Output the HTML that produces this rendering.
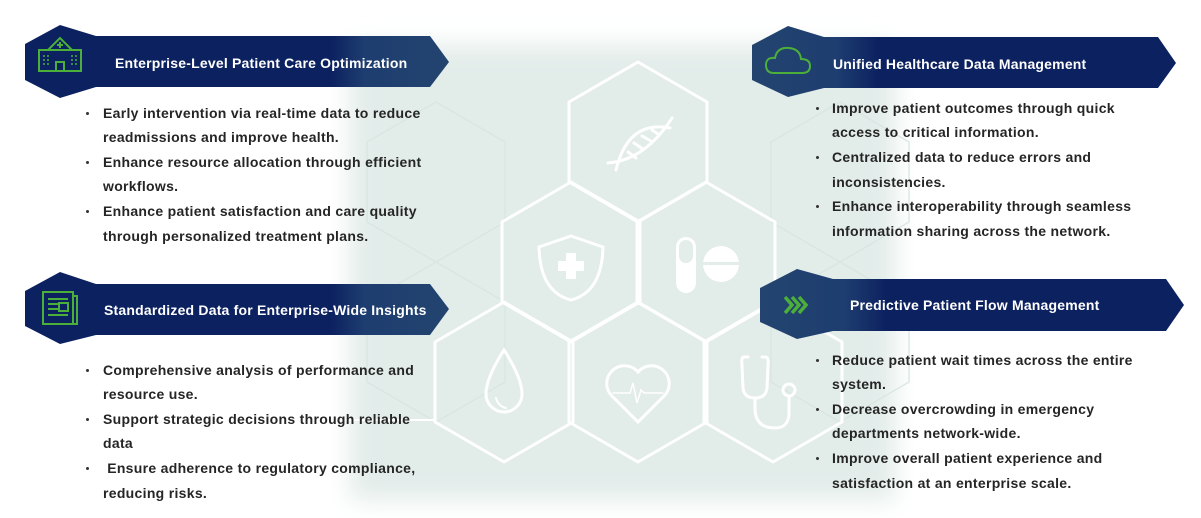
<!DOCTYPE html>
<html><head><meta charset="utf-8"><style>
body{margin:0;width:1201px;height:518px;background:#fff;position:relative;overflow:hidden;font-family:"Liberation Sans",sans-serif}
.l{position:absolute;font-size:14px;letter-spacing:0.3px;font-weight:bold;color:#252525;white-space:nowrap;line-height:16px}
.h{position:absolute;font-size:14px;letter-spacing:0.2px;font-weight:bold;color:#fff;white-space:nowrap;line-height:16px}
.b{position:absolute;width:3px;height:3px;background:#333;border-radius:50%}
svg{position:absolute;left:0;top:0}
</style></head><body>
<svg width="1201" height="518" viewBox="0 0 1201 518">
<defs>
<filter id="blur" x="-20%" y="-20%" width="140%" height="140%"><feGaussianBlur stdDeviation="12"/></filter>
<linearGradient id="fl" x1="0" x2="1"><stop offset="0.72" stop-color="#0c2160"/><stop offset="0.8" stop-color="#1e3d70"/><stop offset="1" stop-color="#23446f"/></linearGradient>
<linearGradient id="fr" x1="0" x2="1"><stop offset="0" stop-color="#23446f"/><stop offset="0.2" stop-color="#1e3d70"/><stop offset="0.3" stop-color="#0c2160"/></linearGradient>
</defs>
<rect x="350" y="45" width="545" height="455" fill="#e2ece9" filter="url(#blur)"/>
<g fill="none" stroke="#d8e5e1" stroke-width="1.2">
<polygon points="436,262 505,222 505,142 436,102 367,142 367,222"/>
<polygon points="840,262 909,222 909,142 840,102 771,142 771,222"/>
<polygon points="436,422 505,382 505,302 436,262 367,302 367,382"/>
<polygon points="840,422 909,382 909,302 840,262 771,302 771,382"/>
</g>
<g fill="none" stroke="#ffffff" stroke-width="3" stroke-linejoin="round">
<polygon points="638,62 707,102 707,182 638,222 569,182 569,102"/>
<polygon points="571,182 640,222 640,302 571,342 502,302 502,222"/>
<polygon points="706,182 775,222 775,302 706,342 637,302 637,222"/>
<polygon points="504,302 573,342 573,422 504,462 435,422 435,342"/>
<polygon points="638,302 707,342 707,422 638,462 569,422 569,342"/>
<polygon points="773,302 842,342 842,422 773,462 704,422 704,342"/>
<line x1="340" y1="420" x2="435" y2="420" stroke-width="2"/>
</g>
<g fill="none" stroke="#fff" stroke-width="3" stroke-linecap="round">
<path d="M616,170 Q628,120 670,128"/><path d="M608,163 Q645,160 672,118"/>
<path d="M628,152 l8,6 M634,143 l9,6 M642,136 l9,5 M652,130 l6,4"/>
<path d="M571,236 L603,247 Q602,292 571,300 Q540,292 539,247 Z"/>
<path d="M504,350 Q522,378 522,394 A18,18 0 0 1 486,394 Q486,378 504,350 Z"/>
<path d="M496,398 Q498,406 506,408" stroke-width="2"/>
<path d="M638,422 L611,395 A15,15 0 1 1 638,372 A15,15 0 1 1 665,395 Z"/>
<path d="M613,393 L630,393 L633,383 L637,403 L641,390 L644,393 L663,393" stroke-width="1.5"/>
<path d="M748,357 L744,357 Q741,357 742,365 L743,388 Q744,398 755,398 Q766,398 767,388 L768,365 Q769,357 765,357 L762,357"/>
<path d="M755,398 L755,410 Q756,428 775,428 Q790,428 789,410 L789,397"/>
<circle cx="789" cy="390" r="6"/>
</g>
<g fill="#fff">
<rect x="566" y="253" width="10" height="26"/><rect x="558" y="261" width="26" height="10"/>
<rect x="676" y="237" width="20" height="56" rx="10"/>
<circle cx="721" cy="264" r="18"/>
</g>
<rect x="679" y="240" width="14" height="23" rx="7" fill="#e3ede9"/>
<rect x="703" y="262" width="36" height="3" fill="#e3ede9"/>
<path d="M25,44 L60,25 L96,36 L430,36 L449,62 L430,87 L96,87 L60,98 L25,80 Z" fill="url(#fl)"/>
<path d="M25,291 L60,272 L96,284 L430,284 L449,309 L430,335 L96,335 L60,344 L25,326 Z" fill="url(#fl)"/>
<path d="M752,45 L788,26 L824,37 L1158,37 L1176,63 L1158,88 L824,88 L788,97 L752,80 Z" fill="url(#fr)"/>
<path d="M760,288 L797,269 L833,279 L1166,279 L1184,305 L1166,331 L833,331 L797,339 L760,322 Z" fill="url(#fr)"/>
<g fill="none" stroke="#4caf3a" stroke-width="2">
<rect x="39" y="50" width="42" height="21"/><path d="M48,50 L60,38 L72,50"/><rect x="56" y="62" width="8" height="9"/>
<path d="M60,42 v6 M57,45 h6"/>
<path d="M44,55 v12 M48,55 v12 M72,55 v12 M76,55 v12" stroke-width="1.5" stroke-dasharray="2,2"/>
<rect x="43" y="292" width="30" height="32"/><path d="M73,296 h4 v28 h-4"/>
<path d="M48,299 h20 M48,304 h10 M48,309 h10 M48,315 h20" />
<rect x="59" y="303" width="9" height="8"/>
<path d="M774,73 Q766,73 766,65 Q766,57 775,58 Q777,47 789,48 Q800,49 801,59 Q810,59 810,66 Q810,73 802,73 Z"/>
</g>
<g fill="none" stroke="#4caf3a" stroke-width="3.5">
<path d="M785,297 l7,8 l-7,8 M792,297 l7,8 l-7,8 M799,297 l7,8 l-7,8"/>
</g>
</svg>
<div class="h" style="left:115px;top:55px">Enterprise-Level Patient Care Optimization</div>
<div class="h" style="left:104px;top:302px">Standardized Data for Enterprise-Wide Insights</div>
<div class="h" style="left:833px;top:56px">Unified Healthcare Data Management</div>
<div class="h" style="left:850px;top:297px">Predictive Patient Flow Management</div>

<div class="b" style="left:86px;top:112px"></div>
<div class="l" style="left:103px;top:105px">Early intervention via real-time data to reduce</div>
<div class="l" style="left:103px;top:129px">readmissions and improve health.</div>
<div class="b" style="left:86px;top:161px"></div>
<div class="l" style="left:103px;top:154px">Enhance resource allocation through efficient</div>
<div class="l" style="left:103px;top:178px">workflows.</div>
<div class="b" style="left:86px;top:210px"></div>
<div class="l" style="left:103px;top:203px">Enhance patient satisfaction and care quality</div>
<div class="l" style="left:103px;top:228px">through personalized treatment plans.</div>

<div class="b" style="left:86px;top:369px"></div>
<div class="l" style="left:103px;top:362px">Comprehensive analysis of performance and</div>
<div class="l" style="left:103px;top:386px">resource use.</div>
<div class="b" style="left:86px;top:418px"></div>
<div class="l" style="left:103px;top:411px">Support strategic decisions through reliable</div>
<div class="l" style="left:103px;top:435px">data</div>
<div class="b" style="left:86px;top:467px"></div>
<div class="l" style="left:103px;top:460px">&nbsp;Ensure adherence to regulatory compliance,</div>
<div class="l" style="left:103px;top:485px">reducing risks.</div>

<div class="b" style="left:816px;top:107px"></div>
<div class="l" style="left:832px;top:100px">Improve patient outcomes through quick</div>
<div class="l" style="left:832px;top:124px">access to critical information.</div>
<div class="b" style="left:816px;top:156px"></div>
<div class="l" style="left:832px;top:149px">Centralized data to reduce errors and</div>
<div class="l" style="left:832px;top:174px">inconsistencies.</div>
<div class="b" style="left:816px;top:205px"></div>
<div class="l" style="left:832px;top:198px">Enhance interoperability through seamless</div>
<div class="l" style="left:832px;top:223px">information sharing across the network.</div>

<div class="b" style="left:816px;top:359px"></div>
<div class="l" style="left:832px;top:352px">Reduce patient wait times across the entire</div>
<div class="l" style="left:832px;top:376px">system.</div>
<div class="b" style="left:816px;top:408px"></div>
<div class="l" style="left:832px;top:401px">Decrease overcrowding in emergency</div>
<div class="l" style="left:832px;top:425px">departments network-wide.</div>
<div class="b" style="left:816px;top:457px"></div>
<div class="l" style="left:832px;top:450px">Improve overall patient experience and</div>
<div class="l" style="left:832px;top:475px">satisfaction at an enterprise scale.</div>
</body></html>
